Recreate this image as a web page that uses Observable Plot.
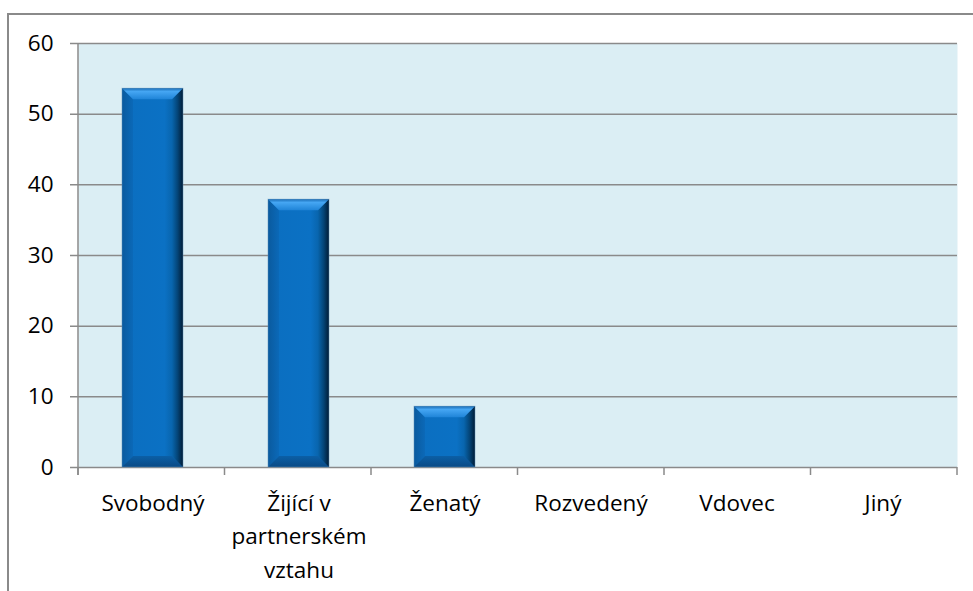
<!DOCTYPE html>
<html>
<head>
<meta charset="utf-8">
<script src="https://cdn.jsdelivr.net/npm/d3@7"></script>
<script src="https://cdn.jsdelivr.net/npm/@observablehq/plot@0.6"></script>
<style>
  html, body { margin: 0; padding: 0; background: #fff; overflow: hidden; }
  #wrap { position: relative; width: 973px; height: 591px; }
  #border { position: absolute; left: 7px; top: 13px; width: 1200px; height: 1200px;
            border-left: 2px solid #8a8a8a; border-top: 2px solid #8a8a8a; pointer-events: none; }
</style>
</head>
<body>
<div id="wrap"><div id="border"></div></div>
<script>
const categories = ["Svobodný", "Žijící v\npartnerském\nvztahu", "Ženatý", "Rozvedený", "Vdovec", "Jiný"];
const values = [53.6, 37.9, 8.6, 0, 0, 0];
const yTicks = [0, 10, 20, 30, 40, 50, 60];

const data = categories.map((c, i) => ({cat: c, value: values[i]}));

const FONT = "'Open Sans', sans-serif";
const FS = 22.5;
const GRID = "#8a8a8a";

function defsMark() {
  const defs = d3.create("svg:defs");
  const lg = (id, stops, vertical) => {
    const g = defs.append("linearGradient").attr("id", id)
      .attr("x1", 0).attr("y1", 0).attr("x2", vertical ? 0 : 1).attr("y2", vertical ? 1 : 0);
    stops.forEach(([o, c]) => g.append("stop").attr("offset", o).attr("stop-color", c));
  };
  lg("bodyGrad", [[0, "#0a62ac"], [0.15, "#0b6fc1"], [0.7, "#0b71c4"], [0.85, "#0862a8"], [1, "#022344"]], false);
  lg("topGrad", [[0, "#1a6db6"], [0.3, "#45a6f3"], [1, "#1f84d8"]], true);
  lg("rightGrad", [[0, "#0865ad"], [0.5, "#044578"], [1, "#011c36"]], false);
  lg("bottomGrad", [[0, "#0b5fa6"], [1, "#0a4a85"]], true);
  lg("leftGrad", [[0, "#0a5a9e"], [1, "#0b69b8"]], false);
  return defs.node();
}

function axisLines(index, scales, values, dims) {
  const {width, height, marginLeft, marginRight, marginTop, marginBottom} = dims;
  const g = d3.create("svg:g").attr("stroke", GRID).attr("stroke-width", 1.5);
  const y0 = scales.y(0), yTop = scales.y(60);
  g.append("line").attr("x1", marginLeft).attr("x2", marginLeft).attr("y1", yTop).attr("y2", y0 + 8);
  const step = (width - marginLeft - marginRight) / categories.length;
  for (let i = 0; i <= categories.length; i++) {
    const xx = marginLeft + i * step;
    g.append("line").attr("x1", xx).attr("x2", xx).attr("y1", y0).attr("y2", y0 + 8);
  }
  return g.node();
}

function bevels(index, scales, values, dims) {
  const x = scales.x, y = scales.y;
  const g = d3.create("svg:g");
  const step = (dims.width - dims.marginLeft - dims.marginRight) / categories.length;
  const bw = x.bandwidth ? x.bandwidth() : step * 0.42;
  const b = 11;
  data.forEach(d => {
    const yT = y(d.value), yB = y(0);
    if (yB - yT < 2) return;
    const x0 = x(d.cat), x1 = x0 + bw;
    const bb = Math.min(b, (yB - yT) / 2);
    const poly = (pts, fill) => g.append("polygon").attr("points", pts.map(p => p.join(",")).join(" ")).attr("fill", fill);
    poly([[x0, yT], [x0 + bb, yT + bb], [x0 + bb, yB - bb], [x0, yB]], "url(#leftGrad)");
    poly([[x1, yT], [x1, yB], [x1 - bb, yB - bb], [x1 - bb, yT + bb]], "url(#rightGrad)");
    poly([[x0, yB], [x1, yB], [x1 - bb, yB - bb], [x0 + bb, yB - bb]], "url(#bottomGrad)");
    poly([[x0, yT], [x1, yT], [x1 - bb, yT + bb], [x0 + bb, yT + bb]], "url(#topGrad)");
    g.append("rect").attr("x", x0).attr("y", yT).attr("width", bw).attr("height", yB - yT)
      .attr("fill", "none").attr("stroke", "#5f8fb8").attr("stroke-width", 0.8).attr("stroke-opacity", 0.6);
  });
  return g.node();
}

const chart = Plot.plot({
  width: 973,
  height: 591,
  marginLeft: 78,
  marginRight: 16,
  marginTop: 43,
  marginBottom: 124,
  x: {domain: categories, paddingInner: 0.58, paddingOuter: 0.29, axis: null},
  y: {domain: [0, 60], axis: null},
  style: {background: "transparent", fontFamily: FONT, fontSize: FS + "px", color: "#000"},
  marks: [
    defsMark,
    Plot.frame({fill: "#dbeef4", stroke: "none"}),
    Plot.ruleY(yTicks, {y: d => d, stroke: GRID, strokeWidth: 1.5, insetLeft: -8}),
    axisLines,
    Plot.barY(data, {x: "cat", y: "value", fill: "url(#bodyGrad)"}),
    bevels,
    Plot.text(yTicks, {y: d => d, text: d => String(d), frameAnchor: "left", dx: -25, textAnchor: "end",
      fontSize: FS, fontFamily: FONT, fill: "#000"}),
    Plot.text(data, {x: "cat", y: d => 0, text: "cat", lineAnchor: "top", dy: 20, lineHeight: 1.48,
      fontSize: FS, fontFamily: FONT, fill: "#000"})
  ]
});
chart.style.position = "absolute";
chart.style.left = "0px";
chart.style.top = "0px";
document.getElementById("wrap").prepend(chart);
</script>
</body>
</html>
